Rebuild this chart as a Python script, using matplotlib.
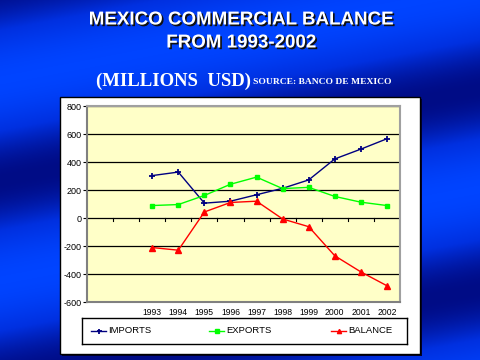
import numpy as np
import matplotlib
matplotlib.use("Agg")
import matplotlib.pyplot as plt
import matplotlib.patheffects as pe
from matplotlib.colors import LinearSegmentedColormap

years = ["1993", "1994", "1995", "1996", "1997", "1998", "1999", "2000", "2001", "2002"]
imports = [303, 328, 106, 120, 166, 212, 272, 422, 492, 566]
exports = [89, 96, 161, 241, 292, 210, 219, 154, 113, 89]
balance = [-211, -230, 43, 111, 120, -7, -62, -270, -385, -484]
yticks = [800, 600, 400, 200, 0, -200, -400, -600]

W, H = 480, 360
fig = plt.figure(figsize=(4.8, 3.6), dpi=100)

# background gradient
bg = fig.add_axes([0, 0, 1, 1])
yy, xx = np.mgrid[0:H, 0:W]
phase = (yy + 0.19 * xx - 80) / 200.0 * 2 * np.pi
field = 0.5 + 0.5 * np.cos(phase)
cmap = LinearSegmentedColormap.from_list("bl", ["#000c86", "#0030e0", "#0044ff"])
bg.imshow(field, cmap=cmap, aspect="auto", extent=[0, W, H, 0])
bg.set_xlim(0, W); bg.set_ylim(H, 0)
bg.axis("off")

# white panel with shadow
bg.add_patch(plt.Rectangle((62, 99), 360, 257, facecolor="#000030", edgecolor="none", zorder=2))
bg.add_patch(plt.Rectangle((60, 97), 360, 257, facecolor="white", edgecolor="black", lw=1, zorder=3))

# titles
shadow = [pe.withSimplePatchShadow(offset=(1.2, -1.2), shadow_rgbFace="#101010", alpha=1.0)]
bg.text(241, 20, "MEXICO COMMERCIAL BALANCE", color="white", fontsize=13.5, fontweight="bold",
        family="Liberation Sans", ha="center", va="center", path_effects=shadow, zorder=4)
bg.text(241, 43, "FROM 1993-2002", color="white", fontsize=13.5, fontweight="bold",
        family="Liberation Sans", ha="center", va="center", path_effects=shadow, zorder=4)
bg.text(96, 81, "(MILLIONS  USD)", color="white", fontsize=13.5, fontweight="bold",
        family="Liberation Serif", ha="left", va="center", zorder=4)
bg.text(253, 82, "SOURCE: BANCO DE MEXICO", color="white", fontsize=6.8, fontweight="bold",
        family="Liberation Serif", ha="left", va="center", zorder=4)

# chart axes: x 87..400, y 106..302 px
ax = fig.add_axes([87 / W, 1 - 302 / H, (400 - 87) / W, (302 - 106) / H], zorder=5)
ax.set_facecolor("#ffffc8")
n_empty = 2
x = np.arange(len(years)) + n_empty
ax.set_xlim(-0.5, len(years) + n_empty - 0.5)
ax.set_ylim(-600, 800)
ax.set_yticks(yticks)
ax.set_yticklabels([str(v) for v in yticks], fontsize=6.5, family="Liberation Sans")
for v in yticks:
    ax.axhline(v, color="black", lw=0.9, zorder=1)
ax.set_xticks([])
for i, yl in zip(x, years):
    ax.text(i, -640, yl, ha="center", va="top", fontsize=6.2, family="Liberation Sans")
# small ticks on zero line
for k in range(1, len(years) + n_empty):
    ax.plot([k - 0.5, k - 0.5], [0, -20], color="black", lw=0.8, zorder=1)
for s in ["left", "bottom"]:
    ax.spines[s].set_color("#808080"); ax.spines[s].set_linewidth(1.5)
for s in ["top", "right"]:
    ax.spines[s].set_color("#a0a0a0"); ax.spines[s].set_linewidth(1.5)
ax.tick_params(axis="y", length=3, width=0.8, pad=1, color="black")

l1, = ax.plot(x, imports, color="#000080", marker="+", markersize=4.5, mew=1.3, lw=1, label="IMPORTS", zorder=3)
l2, = ax.plot(x, exports, color="#00ff00", marker="s", markersize=3.2, lw=1, label="EXPORTS", zorder=3)
l3, = ax.plot(x, balance, color="#ff0000", marker="^", markersize=3.8, lw=1, label="BALANCE", zorder=3)

# legend
lax = fig.add_axes([82 / W, 1 - 344 / H, (407 - 82) / W, (344 - 318) / H], zorder=6)
lax.set_xlim(82, 407); lax.set_ylim(344, 318)
lax.set_xticks([]); lax.set_yticks([])
for s in lax.spines.values():
    s.set_linewidth(1); s.set_color("black")
for line, xs, lab in [(l1, 91, "IMPORTS"), (l2, 209, "EXPORTS"), (l3, 331, "BALANCE")]:
    lax.plot([xs, xs + 15], [331, 331], color=line.get_color(), lw=1)
    lax.plot([xs + 7.5], [331], color=line.get_color(), marker=line.get_marker(),
             markersize=line.get_markersize() * 0.8, mew=line.get_markeredgewidth())
    lax.text(xs + 17, 331, lab, va="center", ha="left", fontsize=6.8, family="Liberation Sans")

fig.savefig("out.png", dpi=100)
